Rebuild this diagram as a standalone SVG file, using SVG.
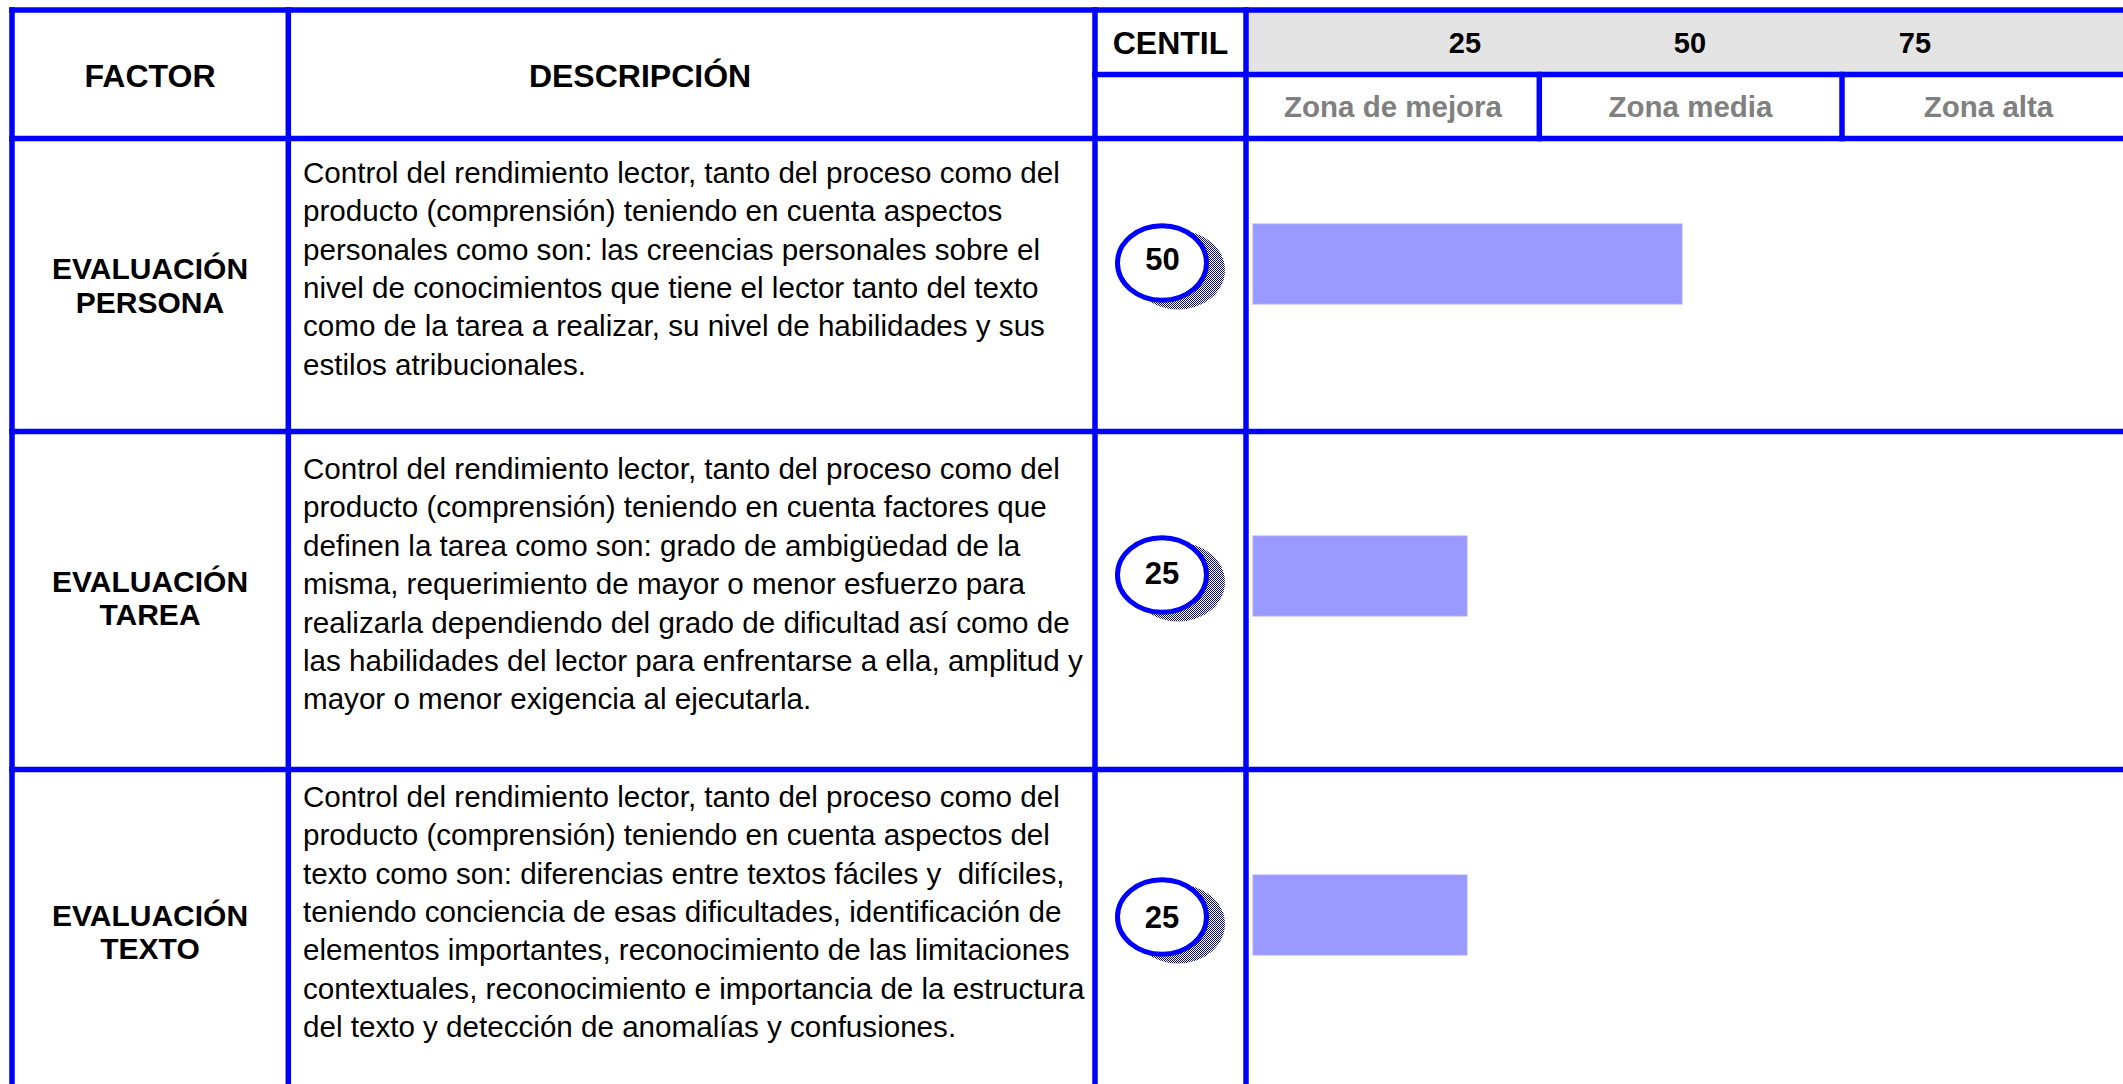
<svg xmlns="http://www.w3.org/2000/svg" width="2123" height="1084" viewBox="0 0 2123 1084">
<defs>
<pattern id="dots" width="2" height="2" patternUnits="userSpaceOnUse">
<rect width="2" height="2" fill="#ffffff"/>
<rect width="1" height="1" fill="#0c0c70"/>
<rect x="1" y="1" width="1" height="1" fill="#0c0c70"/>
</pattern>
<style>
.ln{stroke:#0000ff;stroke-width:5.5;fill:none;stroke-linecap:square}
.h{font-family:"Liberation Sans",Arial,sans-serif;font-weight:bold;font-size:32px;fill:#000;text-anchor:middle}
.n{font-family:"Liberation Sans",Arial,sans-serif;font-weight:bold;font-size:29px;fill:#000;text-anchor:middle}
.z{font-family:"Liberation Sans",Arial,sans-serif;font-weight:bold;font-size:29.5px;fill:#808080;text-anchor:middle}
.lbl{font-family:"Liberation Sans",Arial,sans-serif;font-weight:bold;font-size:30px;fill:#000;text-anchor:middle}
.d{font-family:"Liberation Sans",Arial,sans-serif;font-size:29.6px;fill:#000;white-space:pre}
.c{font-family:"Liberation Sans",Arial,sans-serif;font-weight:bold;font-size:31px;fill:#000;text-anchor:middle}
.bar{fill:#9999ff;stroke:#aaaaff;stroke-width:1}
.sh{fill:url(#dots)}
.cir{fill:#ffffff;stroke:#0000ff;stroke-width:5}
</style>
</defs>
<rect width="2123" height="1084" fill="#ffffff"/>
<rect x="1246" y="10" width="877" height="64.5" fill="#e4e4e4"/>

<g id="header">
<text class="h" x="150" y="86.5">FACTOR</text>
<text class="h" x="640" y="86.5">DESCRIPCIÓN</text>
<text class="h" x="1170.5" y="54">CENTIL</text>
<text class="n" x="1465" y="52.7">25</text>
<text class="n" x="1690" y="52.7">50</text>
<text class="n" x="1915" y="52.7">75</text>
<text class="z" x="1393" y="116.7">Zona de mejora</text>
<text class="z" x="1690.5" y="116.7">Zona media</text>
<text class="z" x="1988.5" y="116.7">Zona alta</text>
</g>

<g id="row-persona">
<text class="lbl" x="150" y="278.5">EVALUACIÓN</text>
<text class="lbl" x="150" y="312.5">PERSONA</text>
<text class="d" x="303" y="182.7">Control del rendimiento lector, tanto del proceso como del</text>
<text class="d" x="303" y="221.1">producto (comprensión) teniendo en cuenta aspectos</text>
<text class="d" x="303" y="259.5">personales como son: las creencias personales sobre el</text>
<text class="d" x="303" y="297.9">nivel de conocimientos que tiene el lector tanto del texto</text>
<text class="d" x="303" y="336.3">como de la tarea a realizar, su nivel de habilidades y sus</text>
<text class="d" x="303" y="374.7">estilos atribucionales.</text>
<ellipse class="sh" cx="1178" cy="270" rx="47" ry="39.5"/>
<ellipse class="cir" cx="1162" cy="263" rx="44.5" ry="37.2"/>
<text class="c" x="1162.5" y="269.5">50</text>
<rect class="bar" x="1253" y="224" width="429" height="80"/>
</g>

<g id="row-tarea">
<text class="lbl" x="150" y="591.5">EVALUACIÓN</text>
<text class="lbl" x="150" y="624.5">TAREA</text>
<text class="d" x="303" y="479">Control del rendimiento lector, tanto del proceso como del</text>
<text class="d" x="303" y="517.4">producto (comprensión) teniendo en cuenta factores que</text>
<text class="d" x="303" y="555.8">definen la tarea como son: grado de ambigüedad de la</text>
<text class="d" x="303" y="594.2">misma, requerimiento de mayor o menor esfuerzo para</text>
<text class="d" x="303" y="632.6">realizarla dependiendo del grado de dificultad así como de</text>
<text class="d" x="303" y="671">las habilidades del lector para enfrentarse a ella, amplitud y</text>
<text class="d" x="303" y="709.4">mayor o menor exigencia al ejecutarla.</text>
<ellipse class="sh" cx="1178" cy="582" rx="47" ry="39.5"/>
<ellipse class="cir" cx="1162" cy="575" rx="44.5" ry="37.2"/>
<text class="c" x="1162" y="584">25</text>
<rect class="bar" x="1253" y="536" width="214" height="80"/>
</g>

<g id="row-texto">
<text class="lbl" x="150" y="926">EVALUACIÓN</text>
<text class="lbl" x="150" y="959">TEXTO</text>
<text class="d" x="303" y="806.7">Control del rendimiento lector, tanto del proceso como del</text>
<text class="d" x="303" y="845.1">producto (comprensión) teniendo en cuenta aspectos del</text>
<text class="d" x="303" y="883.5">texto como son: diferencias entre textos fáciles y  difíciles,</text>
<text class="d" x="303" y="921.9">teniendo conciencia de esas dificultades, identificación de</text>
<text class="d" x="303" y="960.3">elementos importantes, reconocimiento de las limitaciones</text>
<text class="d" x="303" y="998.7">contextuales, reconocimiento e importancia de la estructura</text>
<text class="d" x="303" y="1037.1">del texto y detección de anomalías y confusiones.</text>
<ellipse class="sh" cx="1178" cy="924" rx="47" ry="39.5"/>
<ellipse class="cir" cx="1162" cy="917" rx="44.5" ry="37.2"/>
<text class="c" x="1162" y="928">25</text>
<rect class="bar" x="1253" y="875" width="214" height="80"/>
</g>

<g id="grid-lines">
<line class="ln" x1="12" y1="10" x2="2130" y2="10"/>
<line class="ln" x1="1095" y1="74.5" x2="2130" y2="74.5"/>
<line class="ln" x1="12" y1="138.6" x2="2130" y2="138.6"/>
<line class="ln" x1="12" y1="431.5" x2="2130" y2="431.5"/>
<line class="ln" x1="12" y1="769.5" x2="2130" y2="769.5"/>
<line class="ln" x1="12" y1="10" x2="12" y2="1090"/>
<line class="ln" x1="288.3" y1="10" x2="288.3" y2="1090"/>
<line class="ln" x1="1095" y1="10" x2="1095" y2="1090"/>
<line class="ln" x1="1246" y1="10" x2="1246" y2="1090"/>
<line class="ln" x1="1539.3" y1="74.5" x2="1539.3" y2="138.6"/>
<line class="ln" x1="1842" y1="74.5" x2="1842" y2="138.6"/>
</g>
</svg>
